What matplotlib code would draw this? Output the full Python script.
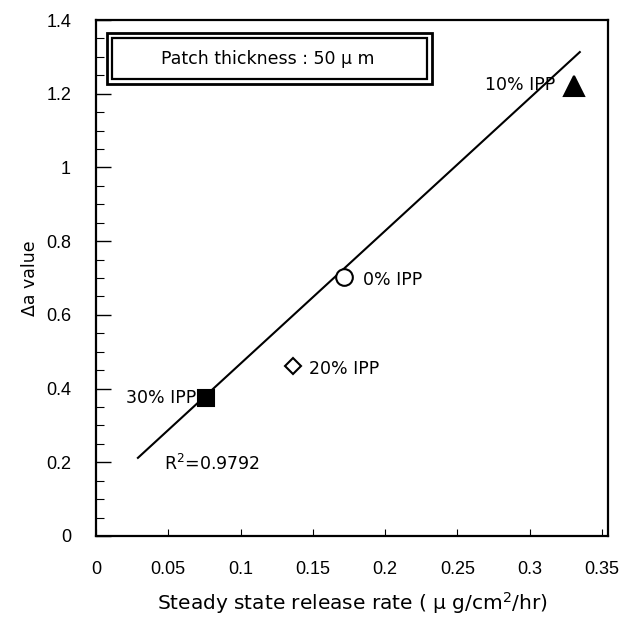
import numpy as np
import matplotlib
matplotlib.use("Agg")
import matplotlib.pyplot as plt
from matplotlib.patches import Rectangle

plt.rcParams["font.family"] = ["DejaVu Sans"]

# data
labels = ["0% IPP", "10% IPP", "20% IPP", "30% IPP"]
release_rate = [0.1715, 0.331, 0.136, 0.076]
delta_a = [0.703, 1.221, 0.461, 0.374]
markers = ["o", "^", "D", "s"]
fills = ["white", "black", "white", "black"]
sizes = [12, 15, 8, 11]

fit_x = [0.029, 0.3347]
fit_y = [0.212, 1.313]
r2_text = "R$^2$=0.9792"

x_ticks = [0, 0.05, 0.1, 0.15, 0.2, 0.25, 0.3, 0.35]
x_ticklabels = ["0", "0.05", "0.1", "0.15", "0.2", "0.25", "0.3", "0.35"]
y_ticks = [0, 0.2, 0.4, 0.6, 0.8, 1.0, 1.2, 1.4]
y_ticklabels = ["0", "0.2", "0.4", "0.6", "0.8", "1", "1.2", "1.4"]

fs = 12.5
tick_font = {"family": "Liberation Sans", "size": 13}

fig = plt.figure(figsize=(6.29, 6.23), dpi=100)
ax = fig.add_axes([96 / 629, 1 - 536 / 623, (607.7 - 96) / 629, (536 - 20) / 623])

ax.plot(fit_x, fit_y, color="black", linewidth=1.5, zorder=2)
for x, y, m, fc, s in zip(release_rate, delta_a, markers, fills, sizes):
    ax.plot(x, y, marker=m, markersize=s, markerfacecolor=fc,
            markeredgecolor="black", markeredgewidth=1.5, linestyle="none", zorder=3)

# point labels
ax.annotate(labels[0], (release_rate[0], delta_a[0]), xytext=(14, -2),
            textcoords="offset points", ha="left", va="center", fontsize=fs)
ax.annotate(labels[1], (release_rate[1], delta_a[1]), xytext=(-14, 1),
            textcoords="offset points", ha="right", va="center", fontsize=fs)
ax.annotate(labels[2], (release_rate[2], delta_a[2]), xytext=(12, -2),
            textcoords="offset points", ha="left", va="center", fontsize=fs)
ax.annotate(labels[3], (release_rate[3], delta_a[3]), xytext=(-7, 0),
            textcoords="offset points", ha="right", va="center", fontsize=fs)
ax.text(0.047, 0.195, r2_text, ha="left", va="center", fontsize=fs)

ax.set_xlim(0, 0.354)
ax.set_ylim(0, 1.4)
ax.set_xticks(x_ticks)
ax.set_xticklabels(x_ticklabels, fontdict=tick_font)
ax.set_yticks(y_ticks)
ax.set_yticklabels(y_ticklabels, fontdict=tick_font)
ax.set_yticks(np.arange(0, 1.4, 0.05), minor=True)
ax.tick_params(axis="y", which="major", direction="in", length=11, width=1, pad=18)
ax.tick_params(axis="y", which="minor", direction="in", length=6, width=0.8)
ax.tick_params(axis="x", which="major", direction="in", length=5, width=0.8, pad=18)
for side in ax.spines.values():
    side.set_linewidth(1.6)

ax.set_xlabel("Steady state release rate ( \u03bc g/cm$^2$/hr)",
              fontsize=14.5, labelpad=9)
ax.set_ylabel("\u0394a value", fontsize=fs, labelpad=5)

# double-framed caption box
fig.patches.append(Rectangle((107 / 629, 1 - 84 / 623), 325 / 629, 51 / 623,
                             transform=fig.transFigure, fill=False,
                             edgecolor="black", linewidth=2))
fig.patches.append(Rectangle((112 / 629, 1 - 79 / 623), 315 / 629, 41 / 623,
                             transform=fig.transFigure, fill=False,
                             edgecolor="black", linewidth=1.6))
fig.text(268 / 629, 1 - 59 / 623, "Patch thickness : 50 \u03bc m",
         ha="center", va="center", fontsize=fs)

fig.savefig("out.png", dpi=100)
